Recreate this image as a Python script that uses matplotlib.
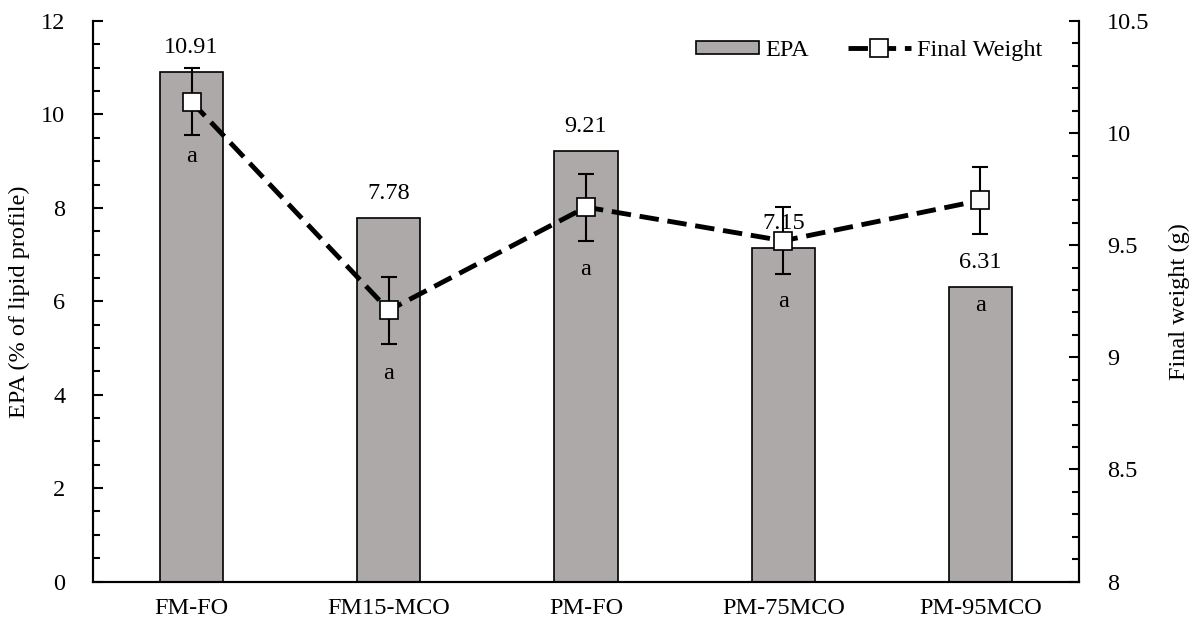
import numpy as np
import matplotlib
matplotlib.use('Agg')
import matplotlib.pyplot as plt
from matplotlib.ticker import MultipleLocator, FuncFormatter

plt.rcParams['font.family'] = ['Liberation Serif', 'DejaVu Serif']
plt.rcParams['font.size'] = 17.5

grupos = ['FM-FO', 'FM15-MCO', 'PM-FO', 'PM-75MCO', 'PM-95MCO']
epa = [10.91, 7.78, 9.21, 7.15, 6.31]
peso_final = [10.14, 9.21, 9.67, 9.52, 9.70]
peso_erro = [0.15, 0.15, 0.15, 0.15, 0.15]
letras = ['a', 'a', 'a', 'a', 'a']
letras_y = [9.895, 8.93, 9.39, 9.25, 9.23]

x = np.arange(len(grupos))

fig = plt.figure(figsize=(11.95, 6.29), dpi=100)
ax = fig.add_axes([0.0778, 0.0755, 0.8252, 0.891])
ax2 = ax.twinx()

barras = ax.bar(x, epa, width=0.32, color='#ADA9A9', edgecolor='black', linewidth=1.2, label='EPA', zorder=2)
for xi, v in zip(x, epa):
    ax.annotate(f'{v:.2f}', (xi, v), xytext=(0, 10), textcoords='offset points',
                ha='center', va='bottom')

ax2.errorbar(x, peso_final, yerr=peso_erro, fmt='none', ecolor='black', elinewidth=1.5,
             capsize=6, capthick=1.5, zorder=3)
linha, = ax2.plot(x, peso_final, color='black', linewidth=3.5, dashes=(4, 1.8),
                  marker='s', markersize=13, markerfacecolor='white', markeredgecolor='black',
                  markeredgewidth=1.2, label='Final Weight', zorder=4)
for xi, ly, l in zip(x, letras_y, letras):
    ax2.text(xi, ly, l, ha='center', va='center')

ax.set_xlim(-0.5, len(grupos) - 0.5)
ax.set_ylim(0, 12)
ax2.set_ylim(8, 10.5)
ax.set_xticks(x)
ax.set_xticklabels(grupos)
ax.tick_params(axis='x', length=0, pad=12)

ax.yaxis.set_major_locator(MultipleLocator(2))
ax.yaxis.set_minor_locator(MultipleLocator(0.5))
ax.tick_params(axis='y', which='both', direction='in', width=1.5)
ax.tick_params(axis='y', which='major', length=7, pad=20)
ax.tick_params(axis='y', which='minor', length=5)

ax2.yaxis.set_major_locator(MultipleLocator(0.5))
ax2.yaxis.set_minor_locator(MultipleLocator(0.1))
ax2.yaxis.set_major_formatter(FuncFormatter(lambda v, p: f'{v:g}'))
ax2.tick_params(axis='y', which='both', direction='in', width=1.5)
ax2.tick_params(axis='y', which='major', length=7, pad=20)
ax2.tick_params(axis='y', which='minor', length=5)

for a in (ax, ax2):
    a.spines['top'].set_visible(False)
    for s in ('left', 'right', 'bottom'):
        a.spines[s].set_linewidth(1.5)

ax.set_ylabel('EPA (% of lipid profile)', labelpad=8)
ax2.set_ylabel('Final weight (g)', labelpad=14)

ax.legend([barras, linha], ['EPA', 'Final Weight'], loc='upper right', ncol=2, frameon=False,
          handlelength=2.6, handleheight=0.5, columnspacing=1.6, handletextpad=0.25,
          bbox_to_anchor=(0.985, 1.005))

fig.savefig('out.png', dpi=100)
